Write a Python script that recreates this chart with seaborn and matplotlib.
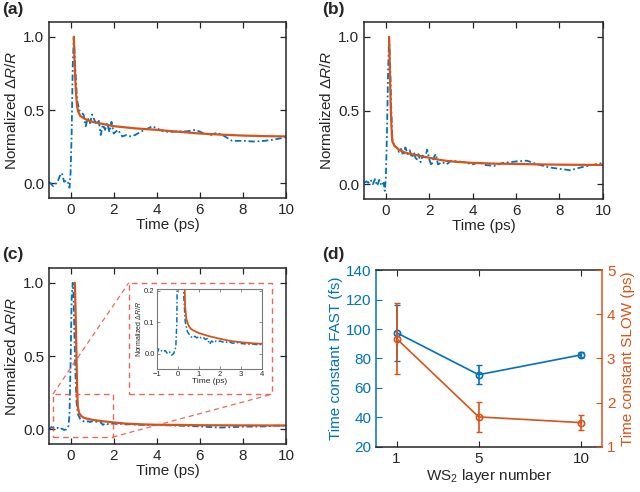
import numpy as np
import pandas as pd
import matplotlib
matplotlib.use("Agg")
import matplotlib.pyplot as plt
import seaborn as sns

# ---- data ----
# (a) 1 layer
a_t = [-1.0, -0.8, -0.6, -0.5, -0.4, -0.3, -0.2, -0.1, -0.05, 0.0, 0.05, 0.1, 0.15, 0.2, 0.3,
       0.4, 0.5, 0.6, 0.7, 0.8, 0.9, 1.0, 1.1, 1.2, 1.3, 1.4, 1.5, 1.6, 1.7, 1.8, 1.9, 2.0,
       2.2, 2.4, 2.6, 2.8, 3.0, 3.3, 3.6, 3.8, 4.0, 4.3, 4.6, 5.0, 5.4, 5.8, 6.2, 6.5, 6.8,
       7.1, 7.5, 8.0, 8.5, 9.0, 9.5, 10.0]
a_sig = [0.01, -0.02, 0.01, 0.05, 0.07, 0.01, 0.02, 0.0, -0.03, 0.07, 0.34, 0.8, 1.0, 0.84, 0.57,
         0.5, 0.48, 0.47, 0.39, 0.445, 0.41, 0.47, 0.435, 0.40, 0.435, 0.33, 0.40, 0.365, 0.41, 0.35, 0.42, 0.34,
         0.365, 0.32, 0.33, 0.32, 0.33, 0.355, 0.375, 0.39, 0.375, 0.355, 0.35, 0.355, 0.355, 0.365, 0.34, 0.33, 0.345,
         0.325, 0.29, 0.29, 0.285, 0.29, 0.30, 0.315]
a_fit_t = [0.15, 0.18, 0.22, 0.26, 0.3, 0.35, 0.45, 0.6, 0.8, 1.0, 1.5, 2, 3, 4, 5, 6, 7, 8, 9, 10]
a_fit = [1.0, 0.85, 0.7, 0.6, 0.53, 0.49, 0.46, 0.445, 0.43, 0.42, 0.405, 0.39, 0.375, 0.365,
         0.352, 0.34, 0.332, 0.326, 0.322, 0.32]

# (b) 5 layers
b_t = [-1.0, -0.9, -0.8, -0.7, -0.6, -0.5, -0.4, -0.3, -0.2, -0.1, -0.05, 0.0, 0.05, 0.1, 0.15,
       0.2, 0.25, 0.3, 0.4, 0.5, 0.6, 0.7, 0.8, 0.9, 1.0, 1.1, 1.2, 1.3, 1.4, 1.5, 1.6, 1.7,
       1.8, 1.9, 2.0, 2.1, 2.2, 2.3, 2.4, 2.6, 2.8, 3.0, 3.3, 3.6, 4.0, 4.3, 4.6, 5.0, 5.4,
       6.0, 6.5, 7.0, 7.5, 8.0, 8.5, 9.0, 9.5, 10.0]
b_sig = [0.01, 0.02, 0.01, 0.03, 0.0, 0.035, -0.01, 0.03, -0.01, 0.01, -0.045, 0.045, 0.34, 0.75, 1.0,
         0.8, 0.5, 0.3, 0.26, 0.25, 0.22, 0.24, 0.195, 0.25, 0.205, 0.23, 0.18, 0.215, 0.16, 0.205, 0.15, 0.195,
         0.17, 0.235, 0.17, 0.125, 0.18, 0.205, 0.135, 0.15, 0.135, 0.16, 0.155, 0.15, 0.135, 0.15, 0.13, 0.125, 0.145,
         0.155, 0.16, 0.135, 0.115, 0.105, 0.095, 0.115, 0.13, 0.145]
b_fit_t = [0.15, 0.18, 0.22, 0.26, 0.3, 0.4, 0.6, 0.8, 1.0, 1.5, 2, 2.5, 3, 4, 5, 6, 7, 8, 9, 10]
b_fit = [1.0, 0.8, 0.55, 0.38, 0.29, 0.26, 0.235, 0.22, 0.21, 0.195, 0.18, 0.165, 0.155, 0.145,
         0.14, 0.138, 0.135, 0.133, 0.132, 0.131]

# (c) 10 layers
c_t = [-1.0, -0.9, -0.8, -0.7, -0.6, -0.5, -0.4, -0.3, -0.2, -0.1, -0.05, 0.0, 0.05, 0.1, 0.13,
       0.17, 0.22, 0.28, 0.35, 0.45, 0.55, 0.6, 0.7, 0.8, 0.9, 1.0, 1.1, 1.2, 1.3, 1.4, 1.5,
       1.6, 1.7, 1.8, 1.9, 2.0, 2.2, 2.4, 2.6, 2.8, 3.0, 3.3, 3.6, 3.8, 4.0, 5.0, 6.0, 6.5,
       7.0, 7.5, 8.0, 9.0, 9.5, 10.0]
c_sig = [0.0, 0.015, 0.01, 0.005, 0.01, 0.0, 0.005, -0.005, 0.0, 0.02, 0.1, 0.45, 0.9, 1.0, 0.95,
         0.7, 0.4, 0.18, 0.1, 0.07, 0.06, 0.055, 0.05, 0.055, 0.05, 0.055, 0.05, 0.052, 0.045, 0.048, 0.03,
         0.04, 0.035, 0.04, 0.038, 0.04, 0.035, 0.038, 0.033, 0.035, 0.032, 0.03, 0.03, 0.028, 0.03, 0.025, 0.02, 0.015,
         0.012, 0.015, 0.018, 0.02, 0.025, 0.025]
c_fit_t = [0.2, 0.24, 0.28, 0.31, 0.34, 0.4, 0.5, 0.6, 0.7, 1.0, 1.5, 2, 2.5, 3, 3.5, 4, 5, 6, 8, 10]
c_fit = [1.0, 0.75, 0.45, 0.25, 0.15, 0.11, 0.09, 0.08, 0.075, 0.065, 0.055, 0.047, 0.04, 0.036,
         0.033, 0.031, 0.03, 0.028, 0.027, 0.026]

# (d) time constants
layers = [1, 5, 10]
fast = [97.5, 69.0, 82.5]
fast_err = [19.0, 6.5, 1.6]
slow = [3.45, 1.68, 1.55]
slow_err = [0.8, 0.34, 0.17]

blue = '#0072BD'
orange = '#D95319'
spine_col = '#262626'
dashdot = (0, (3.5, 1.5, 1, 1.5))

sns.set_style("ticks")
plt.rcParams['font.family'] = ['Liberation Sans', 'DejaVu Sans']
plt.rcParams['mathtext.fontset'] = 'custom'
plt.rcParams['mathtext.rm'] = 'Liberation Sans'
plt.rcParams['mathtext.it'] = 'Liberation Sans:italic'

fig = plt.figure(figsize=(6.4, 4.92), dpi=100)

ylab = 'Normalized Δ$R$/$R$'


def style_axes(ax, fs=11):
    for s in ax.spines.values():
        s.set_color(spine_col)
        s.set_linewidth(1.1)
    ax.tick_params(direction='in', top=True, right=True, length=4, width=0.9,
                   labelsize=fs, color=spine_col)


def trace_panel(ax, t, sig, ft, fit):
    sns.lineplot(x=t, y=sig, ax=ax, color=blue, linestyle=dashdot, linewidth=1.3,
                 sort=False, estimator=None)
    sns.lineplot(x=ft, y=fit, ax=ax, color=orange, linewidth=1.6,
                 sort=False, estimator=None)
    ax.set_xlim(-1, 10)
    ax.set_ylim(-0.1, 1.1)
    ax.set_xticks([0, 2, 4, 6, 8, 10])
    ax.set_yticks([0.0, 0.5, 1.0])
    ax.set_yticklabels(['0.0', '0.5', '1.0'])
    ax.set_xlabel('Time (ps)', fontsize=11, labelpad=1)
    ax.set_ylabel(ylab, fontsize=11, labelpad=3)
    style_axes(ax)


ax_a = fig.add_axes([0.0766, 0.5976, 0.3704, 0.3574])
trace_panel(ax_a, a_t, a_sig, a_fit_t, a_fit)

ax_b = fig.add_axes([0.569, 0.5955, 0.373, 0.3595])
trace_panel(ax_b, b_t, b_sig, b_fit_t, b_fit)

ax_c = fig.add_axes([0.0766, 0.0976, 0.3704, 0.3574])
trace_panel(ax_c, c_t, c_sig, c_fit_t, c_fit)

# zoom boxes and connectors in (c)
box_col = '#F04A3C'
ax_c.plot([-0.82, 1.95, 1.95, -0.82, -0.82], [-0.053, -0.053, 0.24, 0.24, -0.053],
          ls=(0, (4, 3)), color=box_col, lw=1.0, alpha=0.85)
ax_c.plot([2.7, 9.35, 9.35, 2.7, 2.7], [0.24, 0.24, 1.0, 1.0, 0.24],
          ls=(0, (4, 3)), color=box_col, lw=1.0, alpha=0.85)
ax_c.plot([-0.82, 2.7], [0.24, 1.0], ls=(0, (4, 3)), color=box_col, lw=0.9, alpha=0.85)
ax_c.plot([1.95, 9.35], [-0.053, 0.24], ls=(0, (4, 3)), color=box_col, lw=0.9, alpha=0.85)

ins = ax_c.inset_axes([4.0, 0.41, 4.9, 0.55], transform=ax_c.transData)
sns.lineplot(x=c_t, y=c_sig, ax=ins, color=blue, linestyle=dashdot, linewidth=1.1,
             sort=False, estimator=None)
sns.lineplot(x=c_fit_t, y=c_fit, ax=ins, color=orange, linewidth=1.3,
             sort=False, estimator=None)
ins.set_xlim(-1, 4)
ins.set_ylim(-0.05, 0.207)
ins.set_xticks([-1, 0, 1, 2, 3, 4])
ins.set_yticks([0.0, 0.1, 0.2])
ins.set_yticklabels(['0.0', '0.1', '0.2'])
ins.set_xlabel('Time (ps)', fontsize=6, labelpad=0)
ins.set_ylabel(ylab, fontsize=5, labelpad=1)
for s in ins.spines.values():
    s.set_color('#777777')
    s.set_linewidth(0.8)
ins.tick_params(direction='in', top=True, right=True, length=2, width=0.6,
                labelsize=5.5, pad=1.5, color='#777777')

# (d)
ax_d = fig.add_axes([0.5875, 0.0915, 0.3531, 0.3597])
ax_r = ax_d.twinx()
sns.lineplot(x=layers, y=fast, ax=ax_d, color=blue, linewidth=1.2, marker='o',
             markersize=4.5, markerfacecolor='none', markeredgecolor=blue, markeredgewidth=1.2)
ax_d.errorbar(layers, fast, yerr=fast_err, fmt='none', ecolor=blue, elinewidth=1.2, capsize=2)
sns.lineplot(x=layers, y=slow, ax=ax_r, color=orange, linewidth=1.2, marker='o',
             markersize=4.5, markerfacecolor='none', markeredgecolor=orange, markeredgewidth=1.2)
ax_r.errorbar(layers, slow, yerr=slow_err, fmt='none', ecolor=orange, elinewidth=1.2, capsize=2)

ax_d.set_xlim(0, 11)
ax_d.set_ylim(20, 140)
ax_r.set_ylim(1, 5)
ax_d.set_xticks(layers)
ax_d.set_yticks(range(20, 141, 20))
ax_r.set_yticks([1, 2, 3, 4, 5])
ax_d.set_xlabel('WS$_2$ layer number', fontsize=11, labelpad=1)
ax_d.set_ylabel('Time constant FAST (fs)', fontsize=11, color=blue, labelpad=2)
ax_r.set_ylabel('Time constant SLOW (ps)', fontsize=11, color=orange, rotation=90, labelpad=4)

for s in ax_d.spines.values():
    s.set_color(spine_col)
    s.set_linewidth(1.1)
ax_d.spines['left'].set_color(blue)
ax_r.spines['left'].set_visible(False)
ax_r.spines['top'].set_visible(False)
ax_r.spines['bottom'].set_visible(False)
ax_r.spines['right'].set_color(orange)
ax_r.spines['right'].set_linewidth(1.1)
ax_d.spines['right'].set_visible(False)
ax_d.tick_params(axis='x', direction='in', top=True, length=4, labelsize=11, color=spine_col)
ax_d.tick_params(axis='y', direction='in', right=False, length=4, labelsize=11,
                 color=blue, labelcolor=blue)
ax_r.tick_params(axis='y', direction='in', length=4, labelsize=11, color=orange, labelcolor=orange)

# panel labels
for lbl, x, y in [('(a)', 0.003, 0.995), ('(b)', 0.503, 0.995),
                  ('(c)', 0.003, 0.497), ('(d)', 0.503, 0.497)]:
    fig.text(x, y, lbl, fontsize=12.5, fontweight='bold', va='top', ha='left')

plt.savefig('out.png', dpi=100)
